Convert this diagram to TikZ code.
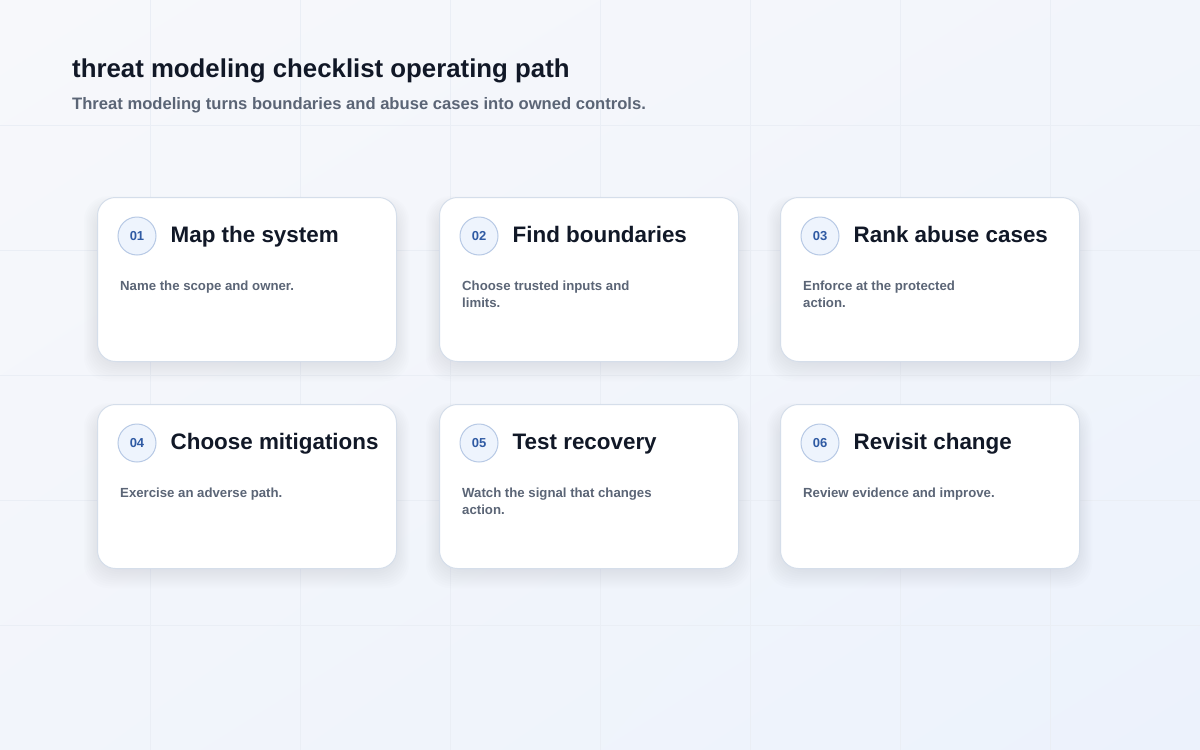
\documentclass[tikz,border=0pt]{standalone}
\usepackage{fontspec}
\setmainfont{Liberation Sans}
\usepackage{tikz}
\usetikzlibrary{positioning, calc, shadings}
\definecolor{inkdark}{HTML}{111827}
\definecolor{inkmuted}{HTML}{5B6576}
\definecolor{cardline}{HTML}{D5DEEA}
\definecolor{gridline}{HTML}{EAEEF5}
\definecolor{stepblue}{HTML}{2F5AA3}
\definecolor{stepfill}{HTML}{EEF4FD}
\definecolor{stepline}{HTML}{B7C9E5}
\definecolor{bgtop}{HTML}{F7F8FB}
\definecolor{bgmid}{HTML}{F2F5FB}
\definecolor{bgbottom}{HTML}{ECF2FC}
\definecolor{shadowtint}{HTML}{8E9AB8}

\tikzset{
  card/.style={draw=cardline, line width=1pt, fill=white, rounded corners=18pt,
    minimum width=299pt, minimum height=164pt, anchor=north west, inner sep=0pt},
  cardshade/.style={fill=shadowtint, opacity=0.02, rounded corners=24pt},
  stepnum/.style={circle, draw=stepline, line width=1pt, fill=stepfill, minimum size=38pt,
    inner sep=0pt, text=stepblue, font=\fontsize{13}{13}\selectfont\bfseries},
  steptitle/.style={inner sep=0pt, anchor=west, text=inkdark,
    font=\fontsize{22.4}{26}\selectfont\bfseries, text height=16pt, text depth=3pt},
  stepnote/.style={inner sep=0pt, anchor=north west, align=left, text=inkmuted,
    font=\fontsize{13.2}{16.7}\selectfont\bfseries},
}

\begin{document}
\begin{tikzpicture}[x=1pt, y=-1pt]
  \useasboundingbox (0,0) rectangle (1200,750);
  \shade[upper left=bgtop, upper right=bgmid, lower left=bgmid, lower right=bgbottom] (0,0) rectangle (1200,750);
  \foreach \gx in {150,300,...,1050} \draw[gridline, line width=1pt] (\gx,0) -- (\gx,750);
  \foreach \gy in {125,250,...,625} \draw[gridline, line width=1pt] (0,\gy) -- (1200,\gy);

  % heading
  \node[anchor=base west, inner sep=0pt, text=inkdark, font=\fontsize{25.8}{30}\selectfont\bfseries] (head) at (72,77) {threat modeling checklist operating path};
  \node[anchor=base west, inner sep=0pt, text=inkmuted, font=\fontsize{16.6}{20}\selectfont\bfseries] (sub) at (72,109) {Threat modeling turns boundaries and abuse cases into owned controls.};

  % soft shadows under the cards
  \foreach \cx/\cy in {97/197, 439/197, 780/197, 97/404, 439/404, 780/404}
    \foreach \s in {1,...,14}
      \fill[cardshade] (\cx+8-1.5*\s, \cy+16-1.2*\s) rectangle (\cx+291+1.5*\s, \cy+156+2*\s);

  % row one
  \node[card] (c1) at (97,197) {};
  \node[stepnum] (n1) at ($(c1.north west)+(40,39)$) {01};
  \node[steptitle, right=14pt of n1] (t1) {Map the system};
  \node[stepnote] (d1) at ($(c1.north west)+(23,84)$) {Name the scope and owner.};

  \node[card] (c2) at (439,197) {};
  \node[stepnum] (n2) at ($(c2.north west)+(40,39)$) {02};
  \node[steptitle, right=14pt of n2] (t2) {Find boundaries};
  \node[stepnote] (d2) at ($(c2.north west)+(23,84)$) {Choose trusted inputs and\\limits.};

  \node[card] (c3) at (780,197) {};
  \node[stepnum] (n3) at ($(c3.north west)+(40,39)$) {03};
  \node[steptitle, right=14pt of n3] (t3) {Rank abuse cases};
  \node[stepnote] (d3) at ($(c3.north west)+(23,84)$) {Enforce at the protected\\action.};

  % row two
  \node[card] (c4) at (97,404) {};
  \node[stepnum] (n4) at ($(c4.north west)+(40,39)$) {04};
  \node[steptitle, right=14pt of n4] (t4) {Choose mitigations};
  \node[stepnote] (d4) at ($(c4.north west)+(23,84)$) {Exercise an adverse path.};

  \node[card] (c5) at (439,404) {};
  \node[stepnum] (n5) at ($(c5.north west)+(40,39)$) {05};
  \node[steptitle, right=14pt of n5] (t5) {Test recovery};
  \node[stepnote] (d5) at ($(c5.north west)+(23,84)$) {Watch the signal that changes\\action.};

  \node[card] (c6) at (780,404) {};
  \node[stepnum] (n6) at ($(c6.north west)+(40,39)$) {06};
  \node[steptitle, right=14pt of n6] (t6) {Revisit change};
  \node[stepnote] (d6) at ($(c6.north west)+(23,84)$) {Review evidence and improve.};
\end{tikzpicture}
\end{document}
